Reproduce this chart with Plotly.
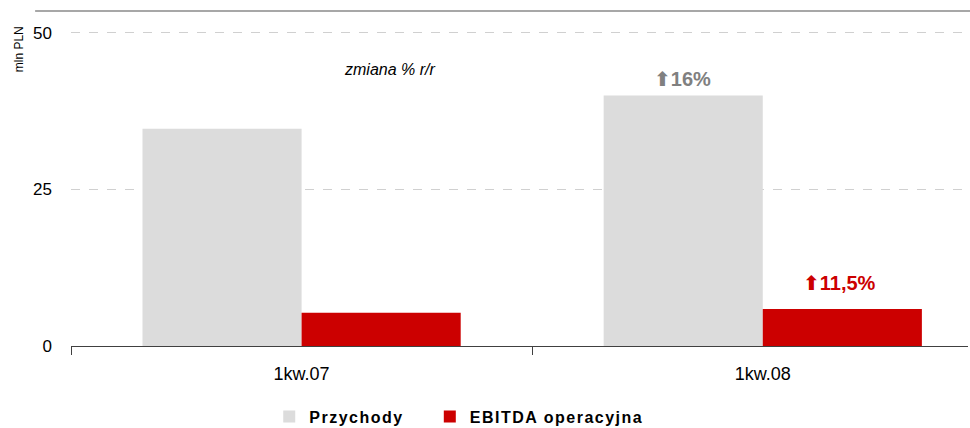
import plotly.graph_objects as go

# data
categories = ['1kw.07', '1kw.08']
przychody = [34.7, 40.0]
ebitda = [5.3, 5.9]
change_labels = ['16%', '11,5%']

FONT = 'Liberation Sans, Arial, sans-serif'
ARROW = '<span style="font-family:DejaVu Sans">\u2B06</span>'
SPACED = '<span style="letter-spacing:1.5px">{}</span>'

fig = go.Figure()
fig.add_trace(go.Bar(x=categories, y=przychody, name='<b>' + SPACED.format('Przychody') + '</b>',
                     marker=dict(color='#dcdcdc', line=dict(width=0)), legend='legend'))
fig.add_trace(go.Bar(x=categories, y=ebitda, name='<b>' + SPACED.format('EBITDA operacyjna') + '</b>',
                     marker=dict(color='#cc0000', line=dict(width=0)), legend='legend2'))

# % change annotations above the 1kw.08 bars
fig.add_annotation(x=categories[1], y=przychody[1], xshift=-80, yshift=3,
                   text='<b>' + ARROW + change_labels[0] + '</b>', showarrow=False,
                   yanchor='bottom', font=dict(size=20, color='#808080', family=FONT))
fig.add_annotation(x=categories[1], y=ebitda[1], xshift=77, yshift=12,
                   text='<b>' + ARROW + change_labels[1] + '</b>', showarrow=False,
                   yanchor='bottom', font=dict(size=20, color='#cc0000', family=FONT))
fig.add_annotation(xref='paper', yref='paper', x=0.355, y=0.824, xanchor='center',
                   yanchor='middle', text='<i>zmiana % r/r</i>', showarrow=False,
                   font=dict(size=16, color='#000000', family=FONT))
fig.add_annotation(xref='paper', yref='paper', x=-0.057, y=0.96, xanchor='center',
                   yanchor='top', text='mln PLN', textangle=-90, showarrow=False,
                   font=dict(size=12, color='#000000', family=FONT))

# thin dark line across the top
fig.add_shape(type='line', xref='paper', yref='paper', x0=-0.04, x1=1.01, y0=1, y1=1,
              line=dict(color='#505050', width=1.2))

legend_style = dict(orientation='h', xanchor='left', y=-0.16, yanchor='top',
                    font=dict(size=16, family=FONT), itemwidth=30)

fig.update_layout(
    width=970, height=428,
    margin=dict(l=71, r=2, t=11, b=82, autoexpand=False),
    plot_bgcolor='white', paper_bgcolor='white',
    barmode='group', bargap=0.31, bargroupgap=0,
    font=dict(family=FONT, size=15, color='#000000'),
    legend=dict(x=0.221, **legend_style),
    legend2=dict(x=0.4, **legend_style),
    showlegend=True,
)
fig.update_xaxes(range=[-0.5, 1.445], showline=True, linecolor='#404040', linewidth=1.2,
                 ticks='outside', tickson='boundaries', ticklen=8, tickcolor='#404040',
                 tickfont=dict(size=18), ticklabelstandoff=11)
fig.update_yaxes(range=[0, 53.5], tickvals=[0, 25, 50], showline=False, zeroline=False,
                 showgrid=True, gridcolor='#d0d0d0', griddash='dash', gridwidth=1,
                 tickfont=dict(size=17), ticks='', ticklabelstandoff=18)

# page has a default 8px body margin, drop it so the figure sits at 0,0
fig.write_html('out.html', config={'displayModeBar': False},
               post_script="document.body.style.margin='0';")
